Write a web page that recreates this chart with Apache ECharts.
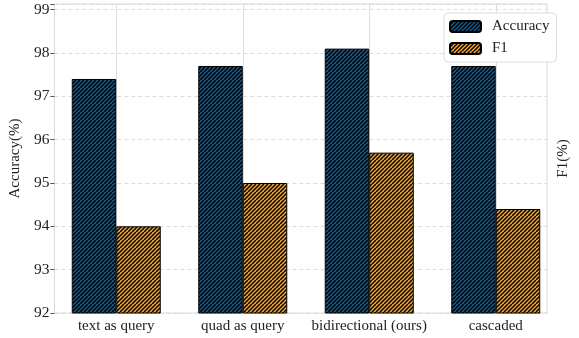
<!DOCTYPE html>
<html>
<head>
<meta charset="utf-8">
<script src="https://cdn.jsdelivr.net/npm/echarts@6/dist/echarts.min.js"></script>
<style>
html,body{margin:0;padding:0;background:#fff;}
#chart{width:579px;height:338px;}
</style>
</head>
<body>
<div id="chart"></div>
<script>
var categories = ['text as query', 'quad as query', 'bidirectional (ours)', 'cascaded'];
var accuracy = [97.4, 97.7, 98.1, 97.7];
var f1 = [94.0, 95.0, 95.7, 94.4];
var yTicks = [92, 93, 94, 95, 96, 97, 98, 99];

function hatch(base) {
  var c = document.createElement('canvas');
  c.width = 8; c.height = 8;
  var ctx = c.getContext('2d');
  ctx.fillStyle = base;
  ctx.fillRect(0, 0, 8, 8);
  ctx.strokeStyle = '#000';
  ctx.lineWidth = 1.5;
  for (var i = -8; i <= 8; i += 4) {
    ctx.beginPath();
    ctx.moveTo(i, 8);
    ctx.lineTo(i + 8, 0);
    ctx.stroke();
  }
  return { image: c, repeat: 'repeat' };
}

var font = 'Liberation Serif';
var chart = echarts.init(document.getElementById('chart'));
var yMin = yTicks[0], yMax = 99.13;
chart.setOption({
  animation: false,
  textStyle: { fontFamily: font },
  grid: [
    { left: 53, right: 20, top: 4, bottom: 25, containLabel: false },
    { left: 48, right: 16, top: 4, bottom: 25, show: true, borderColor: '#d9d9d9', borderWidth: 1, backgroundColor: 'transparent' }
  ],
  legend: {
    orient: 'vertical',
    left: 444, top: 13,
    itemWidth: 31, itemHeight: 11, itemGap: 7,
    padding: [6, 7, 6, 5],
    backgroundColor: '#fff',
    borderColor: '#dcdcdc', borderWidth: 1, borderRadius: 4,
    textStyle: { fontFamily: font, fontSize: 15, color: '#222', padding: [0, 0, 0, 6] },
    data: ['Accuracy', 'F1']
  },
  xAxis: [
    {
      type: 'category', gridIndex: 0, data: categories,
      axisLine: { show: false }, axisTick: { show: false, alignWithLabel: true, interval: 0 },
      axisLabel: { fontFamily: font, fontSize: 15, color: '#222', margin: 6, interval: 0 },
      splitLine: { show: true, alignWithLabel: true, interval: 0, lineStyle: { color: '#dedede', width: 1 } }
    },
    { type: 'category', gridIndex: 1, data: categories, show: false }
  ],
  yAxis: [
    {
      type: 'value', gridIndex: 1, min: yMin, max: yMax, interval: 1,
      name: 'Accuracy(%)', nameLocation: 'middle', nameGap: 29, nameRotate: 90,
      nameTextStyle: { fontFamily: font, fontSize: 15, color: '#222' },
      axisLine: { show: false },
      axisTick: { show: true, length: 4, lineStyle: { color: '#555' } },
      axisLabel: { fontFamily: font, fontSize: 15.5, color: '#222', margin: 5, showMaxLabel: true,
        formatter: function (v) { return yTicks.indexOf(v) >= 0 ? String(v) : ''; } },
      splitLine: { show: true, lineStyle: { color: '#dcdcdc', type: [4, 3], width: 1 } }
    },
    {
      type: 'value', gridIndex: 1, position: 'right', min: yMin, max: yMax, interval: 1,
      name: 'F1(%)', nameLocation: 'middle', nameGap: 9, nameRotate: 90,
      nameTextStyle: { fontFamily: font, fontSize: 15, color: '#222' },
      axisLine: { show: false }, axisTick: { show: false }, axisLabel: { show: false }, splitLine: { show: false }
    },
    { type: 'value', gridIndex: 0, min: yMin, max: yMax, interval: 1, show: false, splitLine: { show: false } }
  ],
  series: [
    {
      name: 'Accuracy', type: 'bar', xAxisIndex: 0, yAxisIndex: 2, data: accuracy,
      barWidth: 44.5, barGap: '0%',
      itemStyle: { color: hatch('#1b5b8a'), borderColor: '#000', borderWidth: 1 }
    },
    {
      name: 'F1', type: 'bar', xAxisIndex: 0, yAxisIndex: 2, data: f1,
      barWidth: 44.5, barGap: '0%',
      itemStyle: { color: hatch('#f5a935'), borderColor: '#000', borderWidth: 1 }
    }
  ]
});
</script>
</body>
</html>
